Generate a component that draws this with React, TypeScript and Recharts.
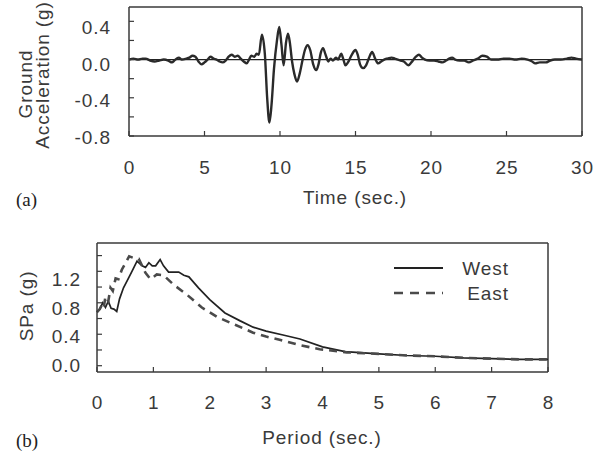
import React from 'react';
import { LineChart, Line, XAxis, YAxis, ReferenceLine } from 'recharts';

// ---------- (a) ground acceleration time history ----------
const timeSec = [
  0, 0.3, 0.6, 0.9, 1.1, 1.4, 1.7, 2.0, 2.3, 2.6, 2.85, 3.0, 3.3, 3.5, 3.8, 4.0, 4.2, 4.4, 4.6, 4.8,
  5.0, 5.2, 5.4, 5.6, 5.8, 6.0, 6.2, 6.4, 6.6, 6.8, 7.0, 7.2, 7.4, 7.6, 7.8, 7.95, 8.1, 8.3, 8.45, 8.6,
  8.8, 9.0, 9.15, 9.3, 9.45, 9.6, 9.8, 9.95, 10.1, 10.24, 10.4, 10.53, 10.65, 10.8, 10.95, 11.13, 11.3, 11.5, 11.65, 11.83,
  12.0, 12.2, 12.4, 12.55, 12.7, 12.85, 13.0, 13.2, 13.35, 13.5, 13.7, 13.85, 14.05, 14.2, 14.33, 14.5, 14.75, 15.0, 15.15, 15.3,
  15.5, 15.7, 15.9, 16.1, 16.3, 16.5, 16.7, 16.9, 17.1, 17.4, 17.6, 17.8, 18.0, 18.2, 18.5, 18.7, 19.0, 19.2, 19.4, 19.6,
  19.9, 20.2, 20.5, 20.75, 21.0, 21.2, 21.4, 21.6, 21.9, 22.2, 22.5, 22.8, 23.1, 23.4, 23.7, 24.0, 24.4, 24.8, 25.2, 25.6,
  26.0, 26.4, 26.7, 26.9, 27.2, 27.6, 27.9, 28.2, 28.6, 29.0, 29.3, 29.6, 30.0,
];
const groundAcc = [
  0.0, 0.01, 0.0, 0.01, 0.01, -0.01, -0.02, -0.01, 0.0, -0.01, -0.03, -0.01, 0.02, 0.0, 0.01, 0.02, 0.04, 0.03, -0.02, -0.05,
  -0.03, 0.0, 0.03, 0.01, 0.0, -0.02, -0.03, -0.01, 0.03, 0.05, 0.03, 0.04, 0.01, -0.02, -0.04, 0.0, 0.04, 0.03, 0.06, 0.05,
  0.26, 0.05, -0.4, -0.66, -0.45, -0.1, 0.2, 0.34, 0.15, -0.06, 0.18, 0.27, 0.18, -0.02, -0.15, -0.23, -0.15, 0.0, 0.1, 0.15,
  0.1, -0.05, -0.11, -0.05, 0.07, 0.12, 0.06, -0.02, 0.01, -0.01, 0.02, 0.0, 0.06, 0.0, -0.06, -0.03, 0.05, 0.1, 0.05, -0.05,
  -0.09, -0.06, 0.02, 0.08, 0.01, -0.04, -0.02, 0.0, 0.01, 0.02, 0.01, 0.0, -0.01, -0.02, -0.06, -0.03, 0.03, 0.05, 0.02, 0.0,
  -0.01, -0.01, -0.02, -0.03, -0.01, 0.01, 0.02, 0.0, -0.01, -0.01, -0.03, -0.01, 0.01, 0.04, 0.03, 0.0, 0.0, 0.01, 0.01, 0.0,
  0.01, 0.0, -0.02, -0.04, -0.03, -0.03, -0.01, 0.0, 0.0, 0.01, 0.02, 0.01, 0.0,
];
const timeTicks = [0, 5, 10, 15, 20, 25, 30];
const accTicks = [-0.8, -0.6, -0.4, -0.2, 0, 0.2, 0.4];

// ---------- (b) response spectra ----------
const westPeriod = [
  0, 0.05, 0.1, 0.15, 0.2, 0.25, 0.3, 0.35, 0.4, 0.47, 0.55, 0.62, 0.71, 0.8, 0.86, 0.92, 0.98, 1.04, 1.12, 1.18,
  1.27, 1.45, 1.54, 1.63, 1.8, 2.0, 2.27, 2.54, 2.77, 3.0, 3.3, 3.6, 4.0, 4.4, 5.0, 5.5, 6.0, 6.5, 7.0, 7.5, 8.0,
];
const westSpa = [
  0.68, 0.72, 0.8, 0.74, 0.82, 0.73, 0.72, 0.69, 0.85, 0.99, 1.1, 1.2, 1.33, 1.27, 1.25, 1.31, 1.27, 1.27, 1.35, 1.27,
  1.19, 1.19, 1.15, 1.13, 0.99, 0.84, 0.67, 0.57, 0.49, 0.44, 0.39, 0.34, 0.24, 0.18, 0.15, 0.13, 0.12, 0.1, 0.09, 0.08, 0.08,
];
const eastPeriod = [
  0, 0.05, 0.09, 0.12, 0.15, 0.2, 0.24, 0.28, 0.33, 0.38, 0.44, 0.5, 0.57, 0.65, 0.74, 0.8, 0.86, 0.95, 1.06, 1.18,
  1.36, 1.6, 1.86, 2.13, 2.45, 2.77, 3.0, 3.24, 3.6, 3.95, 4.43, 5.0, 5.5, 6.0, 6.5, 7.0, 7.5, 8.0,
];
const eastSpa = [
  0.68, 0.72, 0.78, 0.74, 0.88, 0.82, 0.99, 0.95, 1.11, 1.1, 1.22, 1.3, 1.39, 1.37, 1.36, 1.27, 1.18, 1.1, 1.16, 1.15,
  1.03, 0.9, 0.74, 0.62, 0.52, 0.42, 0.37, 0.33, 0.26, 0.21, 0.17, 0.15, 0.13, 0.12, 0.1, 0.09, 0.08, 0.08,
];
const periodTicks = [0, 1, 2, 3, 4, 5, 6, 7, 8];
const spaTicks = [0, 0.2, 0.4, 0.6, 0.8, 1.0, 1.2, 1.4];

const seriesNames = ['West', 'East'];

const groundData = timeSec.map((t, i) => ({ t, a: groundAcc[i] }));
const westData = westPeriod.map((p, i) => ({ p, v: westSpa[i] }));
const eastData = eastPeriod.map((p, i) => ({ p, v: eastSpa[i] }));

const SANS = '"Liberation Sans", Arial, Helvetica, sans-serif';
const TXT = '#3a3a3a';
const AXIS = '#3a3a3a';
const FS = 19;
const LS = 0.9;

const isMajor = (v: number) => Math.abs(Math.round(v / 0.4) * 0.4 - v) < 1e-6;

const makeYTick = (a: number, b: number) => (props: any) => {
  const { x, y, payload } = props;
  const v = payload.value as number;
  if (!isMajor(v)) return <g />;
  return (
    <text
      x={x}
      y={y + a + b * v}
      textAnchor="end"
      dominantBaseline="central"
      fill={TXT}
      style={{ fontFamily: SANS, fontSize: FS, letterSpacing: LS }}
    >
      {v.toFixed(1)}
    </text>
  );
};

const XTick = (props: any) => {
  const { x, y, payload } = props;
  return (
    <text
      x={x + LS / 2}
      y={y}
      dy="0.71em"
      textAnchor="middle"
      fill={TXT}
      style={{ fontFamily: SANS, fontSize: FS, letterSpacing: LS }}
    >
      {String(payload.value)}
    </text>
  );
};

const textStyle: React.CSSProperties = {
  position: 'absolute',
  fontFamily: SANS,
  fontSize: FS,
  letterSpacing: LS,
  color: TXT,
  whiteSpace: 'nowrap',
  lineHeight: 1,
};

const Centered = ({ x, y, rotate, children, style }: any) => (
  <div
    style={{
      ...textStyle,
      ...style,
      left: x,
      top: y,
      transform: `translate(-50%, -50%)${rotate ? ' rotate(-90deg)' : ''}`,
    }}
  >
    {children}
  </div>
);

export default function App() {
  return (
    <div style={{ position: 'absolute', left: 0, top: 0, width: 602, height: 455, background: '#fff', overflow: 'hidden' }}>
      {/* (a) */}
      <div style={{ position: 'absolute', left: 0, top: 0 }}>
        <LineChart width={602} height={180} data={groundData} margin={{ top: 7, right: 20, bottom: 0, left: 0 }}>
          <XAxis
            dataKey="t"
            type="number"
            domain={[0, 30]}
            ticks={timeTicks}
            interval={0}
            height={44}
            tickSize={-5}
            tickMargin={30}
            tick={<XTick />}
            axisLine={{ stroke: AXIS, strokeWidth: 1.5 }}
            tickLine={{ stroke: AXIS, strokeWidth: 1.2 }}
          />
          <YAxis
            type="number"
            domain={[-0.8, 0.55]}
            ticks={accTicks}
            interval={0}
            width={129}
            tickSize={-5}
            tickMargin={23.1}
            tick={makeYTick(4.6, 3.8)}
            axisLine={{ stroke: AXIS, strokeWidth: 1.5 }}
            tickLine={{ stroke: AXIS, strokeWidth: 1.2 }}
            allowDataOverflow
          />
          <ReferenceLine y={0.55} stroke={AXIS} strokeWidth={1.5} />
          <ReferenceLine x={30} stroke={AXIS} strokeWidth={1.5} />
          <ReferenceLine y={0} stroke="#222" strokeWidth={1.2} />
          <Line
            type="monotone"
            dataKey="a"
            stroke="#2a2a2a"
            strokeWidth={2.4}
            dot={false}
            isAnimationActive={false}
          />
        </LineChart>
      </div>

      {/* (b) */}
      <div style={{ position: 'absolute', left: 0, top: 230 }}>
        <LineChart width={602} height={200} margin={{ top: 13, right: 54, bottom: 0, left: 0 }}>
          <XAxis
            dataKey="p"
            type="number"
            domain={[0, 8]}
            ticks={periodTicks}
            interval={0}
            height={58}
            tickSize={-5}
            tickMargin={29}
            tick={<XTick />}
            axisLine={{ stroke: AXIS, strokeWidth: 1.5 }}
            tickLine={{ stroke: AXIS, strokeWidth: 1.2 }}
            allowDuplicatedCategory={false}
          />
          <YAxis
            type="number"
            domain={[-0.08, 1.56]}
            ticks={spaTicks}
            interval={0}
            width={97}
            tickSize={-5}
            tickMargin={21.1}
            tick={makeYTick(-0.4, 7.1)}
            axisLine={{ stroke: AXIS, strokeWidth: 1.5 }}
            tickLine={{ stroke: AXIS, strokeWidth: 1.2 }}
            allowDataOverflow
          />
          <ReferenceLine y={1.56} stroke={AXIS} strokeWidth={1.5} />
          <ReferenceLine x={8} stroke={AXIS} strokeWidth={1.5} />
          <Line
            data={westData}
            type="linear"
            dataKey="v"
            name={seriesNames[0]}
            stroke="#222"
            strokeWidth={1.7}
            dot={false}
            isAnimationActive={false}
          />
          <Line
            data={eastData}
            type="linear"
            dataKey="v"
            name={seriesNames[1]}
            stroke="#4a4a4a"
            strokeWidth={2.6}
            strokeDasharray="8 6"
            dot={false}
            isAnimationActive={false}
          />
        </LineChart>
      </div>

      {/* legend */}
      <svg style={{ position: 'absolute', left: 390, top: 256 }} width={130} height={50}>
        <line x1={4} x2={53} y1={12} y2={12} stroke="#222" strokeWidth={1.8} />
        <line x1={4} x2={53} y1={37} y2={37} stroke="#4a4a4a" strokeWidth={2.6} strokeDasharray="9 7" />
        <text x={118.9} y={12} textAnchor="end" dominantBaseline="central" fill={TXT}
          style={{ fontFamily: SANS, fontSize: FS, letterSpacing: LS }}>{seriesNames[0]}</text>
        <text x={118.9} y={37} textAnchor="end" dominantBaseline="central" fill={TXT}
          style={{ fontFamily: SANS, fontSize: FS, letterSpacing: LS }}>{seriesNames[1]}</text>
      </svg>

      {/* axis titles */}
      <Centered x={25} y={83.5} rotate>Ground</Centered>
      <Centered x={42} y={75} rotate>Acceleration (g)</Centered>
      <Centered x={355} y={197}>Time (sec.)</Centered>
      <Centered x={25.5} y={306} rotate>SPa (g)</Centered>
      <Centered x={322} y={437}>Period (sec.)</Centered>

      <div style={{ position: 'absolute', left: 16, top: 199, transform: 'translateY(-50%)', fontFamily: '"Liberation Serif", "Times New Roman", serif', fontSize: 19, color: '#222', lineHeight: 1 }}>(a)</div>
      <div style={{ position: 'absolute', left: 16, top: 440, transform: 'translateY(-50%)', fontFamily: '"Liberation Serif", "Times New Roman", serif', fontSize: 19, color: '#222', lineHeight: 1 }}>(b)</div>
    </div>
  );
}
